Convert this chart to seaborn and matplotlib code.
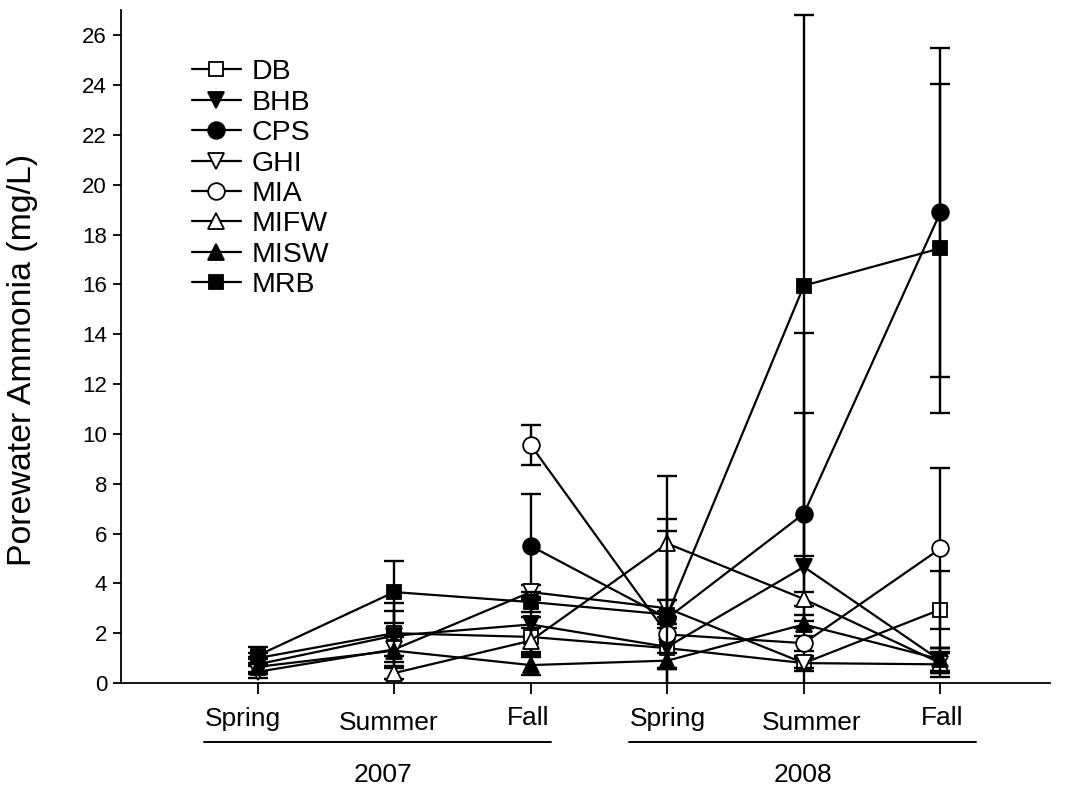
import numpy as np
import pandas as pd
import matplotlib
matplotlib.use("Agg")
import matplotlib.pyplot as plt
import matplotlib.transforms as mtransforms
import seaborn as sns

sns.set_theme(style="ticks")
plt.rcParams["font.family"] = ["Liberation Sans", "DejaVu Sans"]
plt.rcParams.update({"text.color": "black", "axes.labelcolor": "black",
                     "xtick.color": "black", "ytick.color": "black",
                     "axes.edgecolor": "black"})

seasons = ["Spring", "Summer", "Fall", "Spring", "Summer", "Fall"]
years = ["2007", "2008"]
sites = ["DB", "BHB", "CPS", "GHI", "MIA", "MIFW", "MISW", "MRB"]
nan = np.nan

# mean porewater ammonia (mg/L) per sampling event
db   = [1.00, 2.00, 1.85, 1.40, 0.80, 2.95]
bhb  = [0.75, 1.90, 2.35, 1.45, 4.66, 0.90]
cps  = [nan,  nan,  5.50, 2.60, 6.80, 18.90]
ghi  = [0.45, 1.35, 3.65, 3.00, 0.80, 0.75]
mia  = [nan,  nan,  9.55, 1.95, 1.60, 5.40]
mifw = [nan,  0.40, 1.70, 5.60, 3.37, 0.80]
misw = [0.65, 1.30, 0.72, 0.90, 2.35, 0.95]
mrb  = [1.10, 3.65, 3.25, 2.75, 15.95, 17.45]

# standard error for each mean
db_se   = [0.20, 0.90, 0.80, 0.80, 0.30, 1.55]
bhb_se  = [0.30, 1.30, 1.10, 0.90, 9.40, 0.50]
cps_se  = [nan,  nan,  2.10, 4.00, 4.05, 6.60]
ghi_se  = [0.25, 0.50, 0.30, 0.35, 0.20, 0.50]
mia_se  = [nan,  nan,  0.80, 1.40, 0.30, 3.25]
mifw_se = [nan,  0.25, 0.50, 2.70, 0.28, 0.40]
misw_se = [0.30, 0.60, 0.40, 0.30, 0.15, 0.45]
mrb_se  = [0.35, 1.25, 0.40, 3.35, 10.85, 6.60]

means = [db, bhb, cps, ghi, mia, mifw, misw, mrb]
errs = [db_se, bhb_se, cps_se, ghi_se, mia_se, mifw_se, misw_se, mrb_se]

markers = {"DB": "s", "BHB": "v", "CPS": "o", "GHI": "v",
           "MIA": "o", "MIFW": "^", "MISW": "^", "MRB": "s"}
filled = {"DB": False, "BHB": True, "CPS": True, "GHI": False,
          "MIA": False, "MIFW": False, "MISW": True, "MRB": True}
msize = {"s": 10.5, "o": 12, "v": 11.5, "^": 11.5}

rows = []
for site, m, e in zip(sites, means, errs):
    for i, (v, s) in enumerate(zip(m, e)):
        rows.append({"site": site, "event": i, "value": v, "se": s})
df = pd.DataFrame(rows)

fig = plt.figure(figsize=(10.69, 7.91), dpi=100)
ax = fig.add_axes([0.1132, 0.1365, 0.8688, 0.8505])

for k, site in enumerate(sites):
    d = df[df["site"] == site].dropna()
    mk = markers[site]
    ax.errorbar(d["event"], d["value"], yerr=d["se"], fmt="none",
                ecolor="black", elinewidth=1.7, capsize=7.5, capthick=1.7,
                zorder=2 + k)
    sns.lineplot(data=d, x="event", y="value", ax=ax, color="black",
                 linewidth=1.6, marker=mk, markersize=msize[mk],
                 markerfacecolor="black" if filled[site] else "white",
                 markeredgecolor="black", markeredgewidth=1.3,
                 label=site, zorder=2 + k, errorbar=None, sort=False)

ax.set_xlim(-1, 5.8)
ax.set_ylim(0, 27)
ax.set_yticks(np.arange(0, 27, 2))
ax.set_xticks(range(len(seasons)))
ax.set_xticklabels([])
ax.tick_params(axis="x", direction="out", length=8, width=1.3, color="black")
ax.tick_params(axis="y", direction="out", length=6, width=1.3, color="black",
               labelsize=16, pad=4)
for side in ["top", "right"]:
    ax.spines[side].set_visible(False)
for side in ["left", "bottom"]:
    ax.spines[side].set_linewidth(1.3)
    ax.spines[side].set_color("black")

ax.set_xlabel("")
ax.set_ylabel("Porewater Ammonia (mg/L)", fontsize=24.4)
ax.yaxis.set_label_coords(-0.089, 0.48)

# season labels under each tick (slight horizontal/vertical nudges, in points)
label_dx = [-10.8, -4.3, -2.2, 0.7, 5.8, 1.4]
label_dy = {"Spring": -26, "Summer": -29, "Fall": -25}
for i, s in enumerate(seasons):
    ax.annotate(s, xy=(i, 0), xycoords=("data", "axes fraction"),
                xytext=(label_dx[i], label_dy[s]), textcoords="offset points",
                ha="center", va="center", fontsize=19, annotation_clip=False)

# year brackets below the season labels
trans = mtransforms.blended_transform_factory(ax.transData, ax.transAxes)
year_spans = [(-0.39, 2.15), (2.72, 5.26)]
year_centers = [0.92, 3.99]
bracket_y = -0.0877
for yr, (a, b), c in zip(years, year_spans, year_centers):
    ax.plot([a, b], [bracket_y, bracket_y], transform=trans, color="black",
            lw=1.4, clip_on=False)
    ax.annotate(yr, xy=(c, 0), xycoords=("data", "axes fraction"),
                xytext=(0, -66), textcoords="offset points",
                ha="center", va="center", fontsize=19, annotation_clip=False)

leg = ax.legend(loc="upper left", bbox_to_anchor=(0.0637, 0.944), frameon=False,
                fontsize=20.5, handlelength=1.72, handletextpad=0.39,
                labelspacing=0.155, borderaxespad=0)

fig.savefig("out.png", dpi=100)
